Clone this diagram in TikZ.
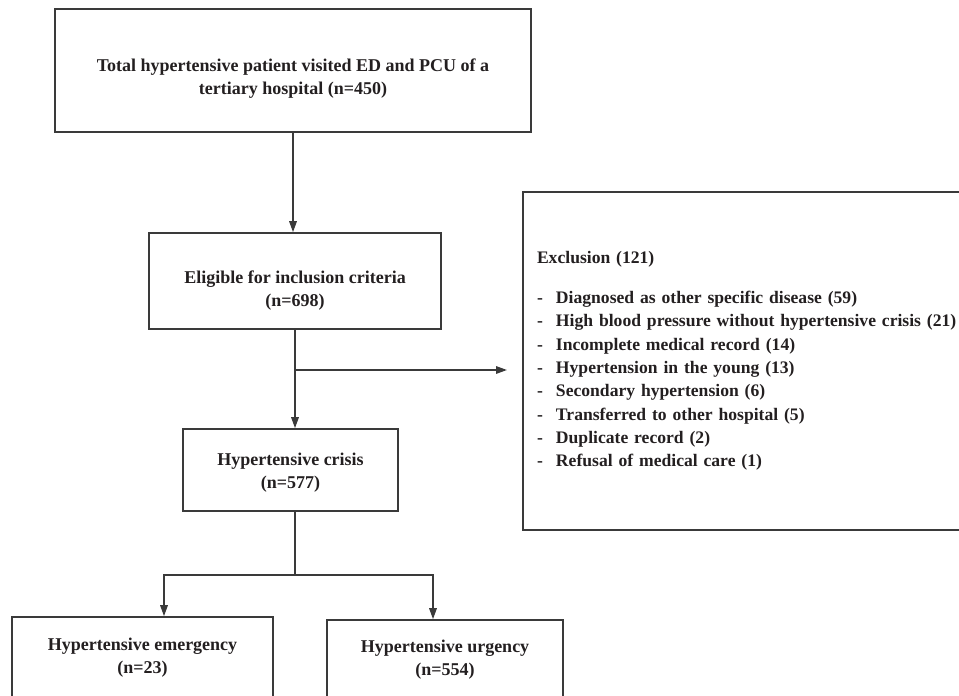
\documentclass[tikz,border=0pt]{standalone}
\usepackage{fontspec}
\setmainfont{Liberation Serif}
\usetikzlibrary{positioning}
\usetikzlibrary{arrows.meta}
\usepackage{xcolor}
\definecolor{linegray}{RGB}{58,58,58}
\definecolor{inkblack}{RGB}{35,31,32}
\newcommand{\excitem}[1]{\makebox[19pt][l]{-}#1}
% pushes the text of a box down by making its first line taller
\newcommand{\textdrop}[1]{\rule{0pt}{#1}}

\begin{document}
\begin{tikzpicture}
[x=1pt, y=-1pt,
% The box style is used for every stage of the flow
box/.style={rectangle, draw=linegray, line width=1.6pt, align=center, text=inkblack, inner sep=0pt, font=\bfseries\fontsize{18}{23.3}\selectfont},
% The excl style is used for the list of excluded patients
excl/.style={rectangle, draw=linegray, line width=1.6pt, align=left, text width=430pt, inner xsep=14pt, inner ysep=0pt, minimum height=338pt, text=inkblack, font=\bfseries\fontsize{17.6}{23.3}\selectfont},
% The flow style is used for the connectors
flow/.style={draw=linegray, line width=1.6pt, -{Triangle[length=11pt,width=7.5pt]}},
link/.style={draw=linegray, line width=1.6pt}
]
\useasboundingbox (0,0) rectangle (959,696);
% Draw stages
\node [box, minimum width=476pt, minimum height=123pt] (total) at (293,70.5) {\textdrop{29pt}Total hypertensive patient visited ED and PCU of a\\tertiary hospital (n=450)};
\node [box, minimum width=292pt, minimum height=96pt] (elig) at (295,281) {\textdrop{32.5pt}Eligible for inclusion criteria\\(n=698)};
\node [box, minimum width=215pt, minimum height=82pt] (crisis) at (290.5,470) {\textdrop{17.5pt}Hypertensive crisis\\(n=577)};
\node [box, minimum width=261pt, minimum height=82pt] (emerg) at (142.5,658) {Hypertensive emergency\\(n=23)};
\node [box, minimum width=236pt, minimum height=80pt] (urg) at (445,660) {Hypertensive urgency\\(n=554)};
\node [excl] (exclusion) at (752,361) {Exclusion (121)\\[16.7pt]
\excitem{Diagnosed as other specific disease (59)}\\
\excitem{High blood pressure without hypertensive crisis (21)}\\
\excitem{Incomplete medical record (14)}\\
\excitem{Hypertension in the young (13)}\\
\excitem{Secondary hypertension (6)}\\
\excitem{Transferred to other hospital (5)}\\
\excitem{Duplicate record (2)}\\
\excitem{Refusal of medical care (1)}};

% Draw connectors
\coordinate (split) at (295,370);
\coordinate (exarrow) at (507,370);
\coordinate (fork) at (295,575);
\coordinate (lbend) at (164,575);
\coordinate (rbend) at (433,575);
\draw[flow] (total.south) -- (total.south |- elig.north);
\draw[flow] (elig.south) -- (elig.south |- crisis.north);
\draw[flow] (split) -- (exarrow);
\draw[link] (crisis.south -| fork) -- (fork);
\draw[flow] (fork) -- (lbend) -- (lbend |- emerg.north);
\draw[flow] (fork) -- (rbend) -- (rbend |- urg.north);
\end{tikzpicture}
\end{document}
